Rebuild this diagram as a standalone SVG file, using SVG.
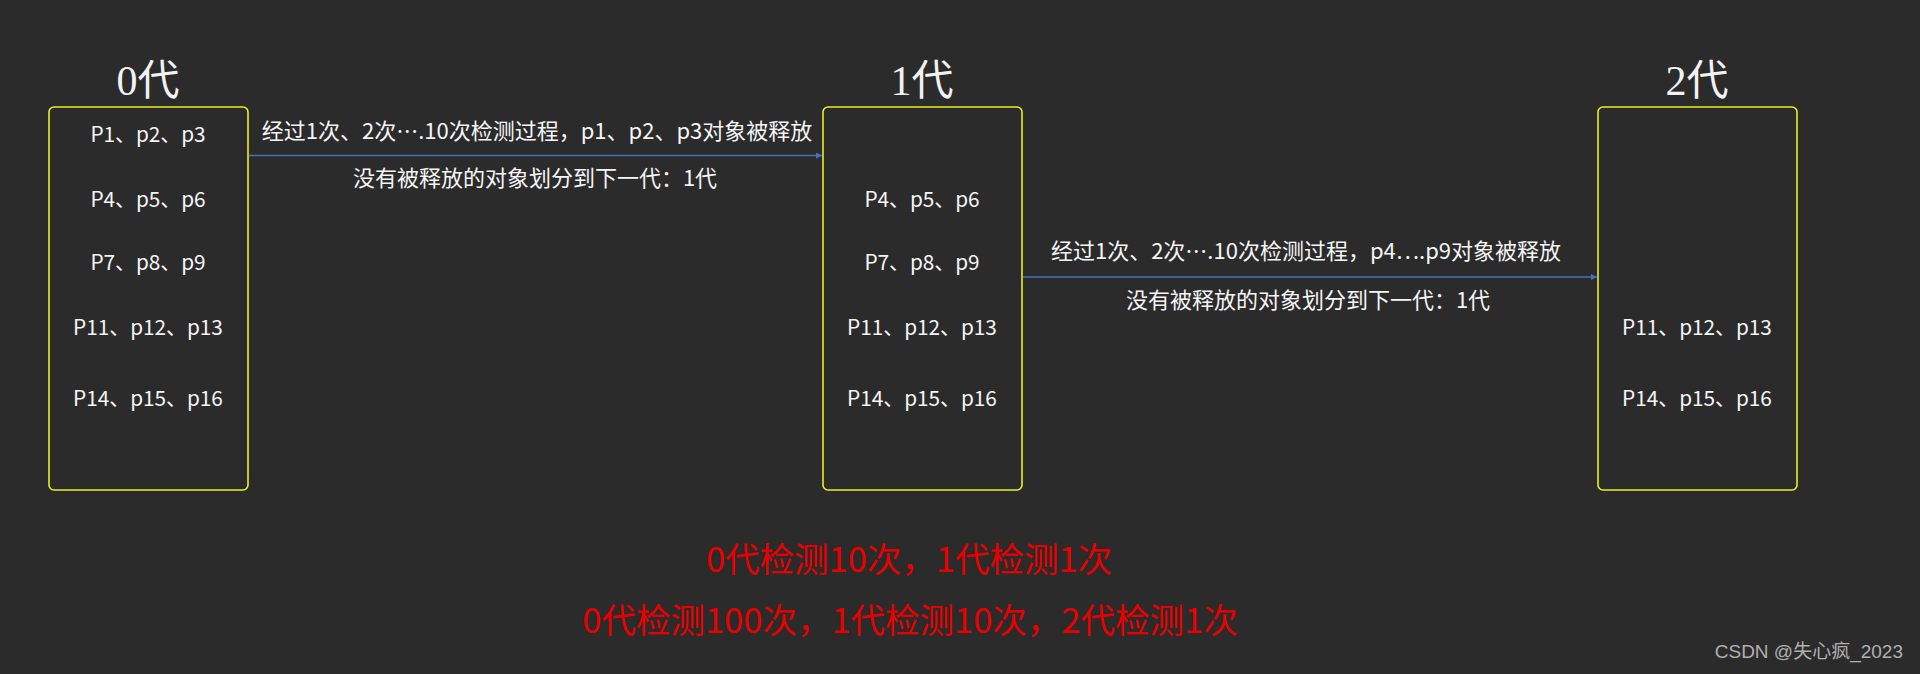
<svg xmlns="http://www.w3.org/2000/svg" width="1920" height="674" viewBox="0 0 1920 674">
<style>
.bg{fill:#2b2b2b}
.box{fill:none;stroke:#eeee22;stroke-width:1.6}
.title{font-family:"Liberation Serif","Noto Sans CJK SC",serif;font-size:42px;fill:#f2f2f2;text-anchor:middle}
.item{font-family:"Noto Sans CJK SC",sans-serif;font-size:20.8px;fill:#f5f5f5;text-anchor:middle}
.lbl{font-family:"Noto Sans CJK SC",sans-serif;font-size:22px;fill:#f5f5f5;text-anchor:middle}
.red{font-family:"Noto Sans CJK SC",sans-serif;font-size:34.5px;fill:#e80000;text-anchor:middle}
.wm{font-family:"Liberation Sans","Noto Sans CJK SC",sans-serif;font-size:19px;fill:#b0b0b0;text-anchor:end}
.conn{stroke:#4472c4;stroke-width:1.5;fill:none}
</style>
<defs>
<marker id="ah" viewBox="0 0 10 10" refX="10" refY="5" markerWidth="6" markerHeight="6" orient="auto" markerUnits="userSpaceOnUse">
<path d="M0,0 L10,5 L0,10 z" fill="#4472c4"/>
</marker>
</defs>
<rect class="bg" x="0" y="0" width="1920" height="674"/>
<g id="gen0">
<text class="title" x="148" y="95">0代</text>
<rect class="box" x="49" y="107" width="199" height="383" rx="5"/>
<text class="item" x="148" y="142">P1、p2、p3</text>
<text class="item" x="148" y="207">P4、p5、p6</text>
<text class="item" x="148" y="270">P7、p8、p9</text>
<text class="item" x="148" y="335">P11、p12、p13</text>
<text class="item" x="148" y="406">P14、p15、p16</text>
</g>
<g id="gen1">
<text class="title" x="922" y="95">1代</text>
<rect class="box" x="823" y="107" width="199" height="383" rx="5"/>
<text class="item" x="922" y="207">P4、p5、p6</text>
<text class="item" x="922" y="270">P7、p8、p9</text>
<text class="item" x="922" y="335">P11、p12、p13</text>
<text class="item" x="922" y="406">P14、p15、p16</text>
</g>
<g id="gen2">
<text class="title" x="1697" y="95">2代</text>
<rect class="box" x="1598" y="107" width="199" height="383" rx="5"/>
<text class="item" x="1697" y="335">P11、p12、p13</text>
<text class="item" x="1697" y="406">P14、p15、p16</text>
</g>
<g id="connectors">
<line class="conn" x1="249" y1="155.5" x2="822" y2="155.5" marker-end="url(#ah)"/>
<line class="conn" x1="1023" y1="277" x2="1597" y2="277" marker-end="url(#ah)"/>
</g>
<g id="labels">
<text class="lbl" x="537" y="139">经过1次、2次….10次检测过程，p1、p2、p3对象被释放</text>
<text class="lbl" x="535" y="186">没有被释放的对象划分到下一代：1代</text>
<text class="lbl" x="1306" y="259">经过1次、2次….10次检测过程，p4….p9对象被释放</text>
<text class="lbl" x="1308" y="308">没有被释放的对象划分到下一代：1代</text>
</g>
<g id="notes">
<text class="red" x="909" y="572">0代检测10次，1代检测1次</text>
<text class="red" x="910" y="633">0代检测100次，1代检测10次，2代检测1次</text>
</g>
<text class="wm" x="1903" y="658">CSDN @失心疯_2023</text>
</svg>
